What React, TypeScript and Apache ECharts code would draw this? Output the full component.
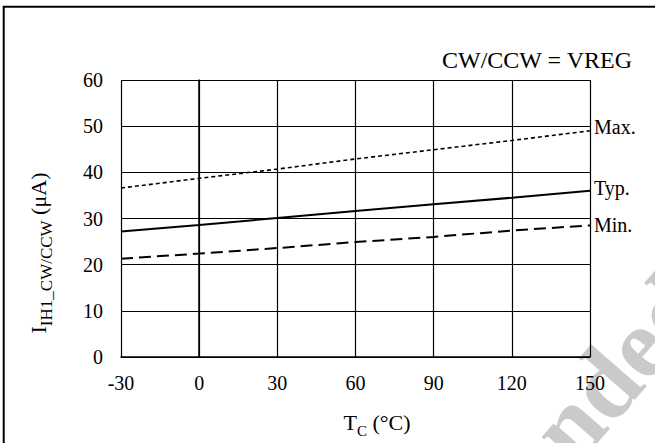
import React, { useEffect, useRef } from 'react';
import * as echarts from 'echarts';

const temps = [-30, 0, 30, 60, 90, 120, 150];
const maxVals = [36.6, 38.7, 40.7, 42.9, 44.9, 46.9, 49.0];
const typVals = [27.2, 28.6, 30.1, 31.6, 33.1, 34.5, 36.0];
const minVals = [21.3, 22.4, 23.6, 24.9, 26.0, 27.4, 28.5];
const seriesNames = ['Max.', 'Typ.', 'Min.'];
const conditionText = 'CW/CCW = VREG';
const watermarkHead = 'Recomme';
const watermarkTail = 'nded';

const FONT = "'Liberation Serif', 'Times New Roman', serif";

export default function App() {
  const ref = useRef<HTMLDivElement>(null);
  useEffect(() => {
    document.body.style.margin = '0';
    if (!ref.current) return;
    const chart = echarts.init(ref.current, null, { renderer: 'svg' });
    const mk = (vals: number[]) => temps.map((t, i) => [t, vals[i]]);
    const endLabel = (name: string, dy: number) => ({
      show: true,
      formatter: name,
      fontFamily: FONT,
      fontSize: 20,
      color: '#000',
      distance: 4,
      offset: [0, dy],
    });
    const wmAngle = (49 * Math.PI) / 180;
    const wmStyle = {
      font: `bold 100px ${FONT}`,
      fill: '#cacaca',
      textVerticalAlign: 'bottom',
    };
    chart.setOption({
      animation: false,
      backgroundColor: '#fff',
      grid: { left: 121, right: 65, top: 80, bottom: 86, containLabel: false },
      xAxis: {
        type: 'value',
        min: -30,
        max: 150,
        interval: 30,
        axisLine: { show: true, lineStyle: { color: '#000', width: 1.5 } },
        axisTick: { show: false },
        splitLine: { show: true, lineStyle: { color: '#000', width: 1.2 } },
        axisLabel: { fontFamily: FONT, fontSize: 20, color: '#000', margin: 16 },
      },
      yAxis: {
        type: 'value',
        min: 0,
        max: 60,
        interval: 10,
        axisLine: { show: true, lineStyle: { color: '#000', width: 1.5 } },
        axisTick: { show: false },
        splitLine: { show: true, lineStyle: { color: '#000', width: 1.2 } },
        axisLabel: { fontFamily: FONT, fontSize: 20, color: '#000', margin: 18 },
      },
      graphic: [
        {
          type: 'group',
          x: 587,
          y: 480,
          rotation: wmAngle,
          z: -10,
          silent: true,
          children: [
            { type: 'text', x: 0, y: 0, style: { ...wmStyle, text: watermarkTail, textAlign: 'left' } },
            { type: 'text', x: 0, y: 0, style: { ...wmStyle, text: watermarkHead, textAlign: 'right' } },
          ],
        },
        {
          type: 'rect',
          shape: { x: 3.7, y: 6.8, width: 800, height: 600 },
          style: { fill: 'none', stroke: '#000', lineWidth: 2 },
          silent: true,
        },
        {
          type: 'text',
          x: 632,
          y: 60,
          style: {
            text: conditionText,
            font: `24px ${FONT}`,
            fill: '#000',
            textAlign: 'right',
            textVerticalAlign: 'middle',
          },
        },
        {
          type: 'text',
          x: 377,
          y: 422,
          style: {
            text: '{m|T}{s|C}{m| (°C)}',
            textAlign: 'center',
            textVerticalAlign: 'middle',
            rich: {
              m: { fontFamily: FONT, fontSize: 22, lineHeight: 22, verticalAlign: 'top', fill: '#000' },
              s: { fontFamily: FONT, fontSize: 15, lineHeight: 15, verticalAlign: 'top', padding: [12, 0, 0, 0], fill: '#000' },
            },
          },
        },
        {
          type: 'text',
          x: 38,
          y: 253,
          rotation: Math.PI / 2,
          style: {
            text: '{m|I}{s|IH1_CW/CCW}{m| (μA)}',
            textAlign: 'center',
            textVerticalAlign: 'middle',
            rich: {
              m: { fontFamily: FONT, fontSize: 22, lineHeight: 22, verticalAlign: 'top', fill: '#000' },
              s: { fontFamily: FONT, fontSize: 17, lineHeight: 17, verticalAlign: 'top', padding: [11, 0, 0, 0], fill: '#000' },
            },
          },
        },
      ],
      series: [
        {
          name: seriesNames[0],
          type: 'line',
          data: mk(maxVals),
          symbol: 'none',
          z: 3,
          lineStyle: { color: '#000', width: 1.6, type: [4, 3] },
          endLabel: endLabel(seriesNames[0], -4),
        },
        {
          name: seriesNames[1],
          type: 'line',
          data: mk(typVals),
          symbol: 'none',
          z: 3,
          lineStyle: { color: '#000', width: 2 },
          endLabel: endLabel(seriesNames[1], -3),
        },
        {
          name: seriesNames[2],
          type: 'line',
          data: mk(minVals),
          symbol: 'none',
          z: 3,
          lineStyle: { color: '#000', width: 2, type: [12, 6] },
          endLabel: endLabel(seriesNames[2], 0),
        },
      ],
    });
    return () => chart.dispose();
  }, []);
  return <div ref={ref} style={{ width: 655, height: 443 }} />;
}
